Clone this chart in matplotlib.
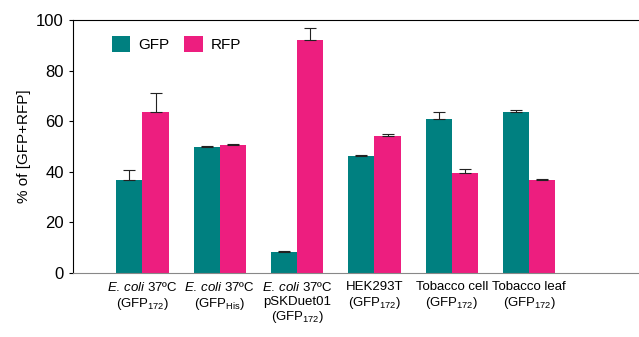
import numpy as np
import matplotlib
matplotlib.use("Agg")
import matplotlib.pyplot as plt

plt.rcParams['font.family'] = ['Liberation Sans', 'DejaVu Sans']
plt.rcParams['mathtext.fontset'] = 'custom'
plt.rcParams['mathtext.rm'] = 'Liberation Sans'
plt.rcParams['mathtext.it'] = 'Liberation Sans:italic'

labels = ["$\\it{E.\\,coli}$ 37ºC\n(GFP$_{172}$)",
          "$\\it{E.\\,coli}$ 37ºC\n(GFP$_{\\rm His}$)",
          "$\\it{E.\\,coli}$ 37ºC\npSKDuet01\n(GFP$_{172}$)",
          "HEK293T\n(GFP$_{172}$)",
          "Tobacco cell\n(GFP$_{172}$)",
          "Tobacco leaf\n(GFP$_{172}$)"]
gfp = [36.8, 49.9, 8.3, 46.2, 61.1, 63.6]
gfp_err = [3.8, 0.3, 0.4, 0.3, 2.7, 0.7]
rfp = [63.6, 50.6, 92.1, 54.3, 39.4, 36.8]
rfp_err = [7.7, 0.4, 4.7, 0.6, 1.8, 0.3]

teal = '#008080'
pink = '#ED1E7F'

fig = plt.figure(figsize=(6.39, 3.37), dpi=100)
ax = fig.add_axes([0.114, 0.19, 0.886, 0.75])
x = np.arange(len(labels))
w = 0.34
ekw = dict(ecolor='#222222', elinewidth=0.8, capsize=4.5, capthick=0.8)
ax.bar(x - w/2, gfp, w, color=teal, label='GFP', yerr=[np.zeros(6), gfp_err], error_kw=ekw)
ax.bar(x + w/2, rfp, w, color=pink, label='RFP', yerr=[np.zeros(6), rfp_err], error_kw=ekw)

ax.set_xlim(-0.9, 6.42)
ax.set_ylim(0, 100)
ax.set_yticks([0, 20, 40, 60, 80, 100])
ax.tick_params(axis='y', labelsize=12, direction='out', length=3)
ax.tick_params(axis='x', length=0, labelsize=9.5, pad=6)
ax.set_xticks(x)
ax.set_xticklabels(labels, linespacing=1.15)
ax.set_ylabel('% of [GFP+RFP]', fontsize=11)
ax.spines['right'].set_visible(False)
ax.spines['bottom'].set_color('#888888')
ax.legend(loc='upper left', bbox_to_anchor=(0.045, 0.99), frameon=False, fontsize=11,
          handlelength=1.2, handleheight=1.2, ncol=2, columnspacing=1.0, handletextpad=0.5)

fig.savefig('out.png', dpi=100)
